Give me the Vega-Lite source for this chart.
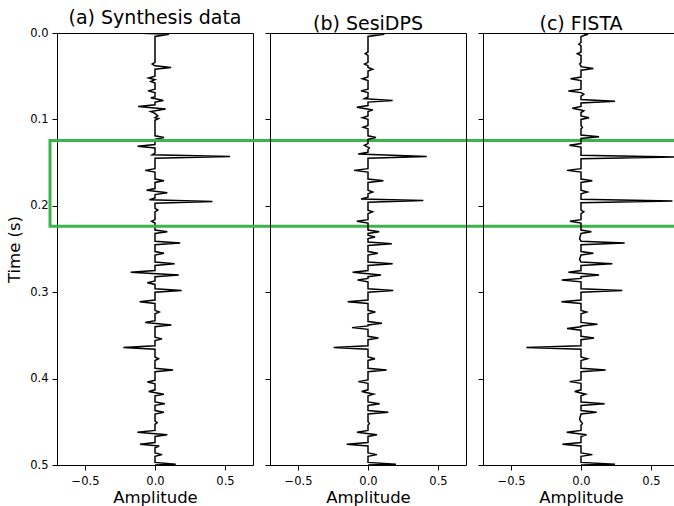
{
"$schema": "https://vega.github.io/schema/vega-lite/v6.json",
"padding": {"left": 6, "top": 8, "right": 0, "bottom": 0},
"datasets": {
"a": [{"t":0,"v":-0.14},{"t":0.0015,"v":0.1},{"t":0.004,"v":0},{"t":0.034,"v":0},{"t":0.036,"v":-0.02},{"t":0.038,"v":0},{"t":0.040,"v":0.115},{"t":0.042,"v":0},{"t":0.050,"v":0},{"t":0.052,"v":-0.045},{"t":0.054,"v":0},{"t":0.056,"v":-0.03},{"t":0.058,"v":0},{"t":0.065,"v":0},{"t":0.067,"v":-0.05},{"t":0.069,"v":0},{"t":0.074,"v":0},{"t":0.075,"v":-0.03},{"t":0.078,"v":0.06},{"t":0.080,"v":0},{"t":0.083,"v":0},{"t":0.085,"v":-0.12},{"t":0.088,"v":0.076},{"t":0.091,"v":-0.03},{"t":0.093,"v":0},{"t":0.096,"v":0.02},{"t":0.098,"v":0},{"t":0.099,"v":0.025},{"t":0.101,"v":0},{"t":0.119,"v":0},{"t":0.121,"v":0.065},{"t":0.123,"v":0},{"t":0.129,"v":0},{"t":0.131,"v":-0.125},{"t":0.133,"v":0},{"t":0.139,"v":0},{"t":0.141,"v":-0.02},{"t":0.143,"v":0.536},{"t":0.145,"v":0},{"t":0.157,"v":0},{"t":0.159,"v":-0.07},{"t":0.161,"v":0},{"t":0.169,"v":0},{"t":0.171,"v":0.064},{"t":0.173,"v":0},{"t":0.180,"v":0},{"t":0.182,"v":-0.06},{"t":0.185,"v":0.088},{"t":0.187,"v":0},{"t":0.191,"v":0},{"t":0.193,"v":-0.04},{"t":0.195,"v":0.41},{"t":0.197,"v":0},{"t":0.203,"v":0},{"t":0.205,"v":0.02},{"t":0.207,"v":0},{"t":0.216,"v":0},{"t":0.218,"v":-0.024},{"t":0.220,"v":0},{"t":0.228,"v":0},{"t":0.230,"v":0.088},{"t":0.232,"v":0},{"t":0.241,"v":0},{"t":0.243,"v":0.18},{"t":0.245,"v":0},{"t":0.253,"v":0},{"t":0.255,"v":0.064},{"t":0.257,"v":0},{"t":0.265,"v":0},{"t":0.267,"v":0.14},{"t":0.269,"v":0},{"t":0.275,"v":0},{"t":0.277,"v":-0.174},{"t":0.280,"v":0.17},{"t":0.282,"v":0},{"t":0.287,"v":0},{"t":0.289,"v":-0.055},{"t":0.291,"v":0},{"t":0.296,"v":0},{"t":0.298,"v":0.19},{"t":0.300,"v":0},{"t":0.309,"v":0},{"t":0.311,"v":-0.11},{"t":0.313,"v":0},{"t":0.321,"v":0},{"t":0.323,"v":0.03},{"t":0.325,"v":0},{"t":0.333,"v":0},{"t":0.335,"v":-0.07},{"t":0.338,"v":0.117},{"t":0.340,"v":0},{"t":0.352,"v":0},{"t":0.354,"v":0.05},{"t":0.356,"v":0},{"t":0.362,"v":0},{"t":0.364,"v":-0.226},{"t":0.366,"v":0},{"t":0.375,"v":0},{"t":0.377,"v":0.025},{"t":0.379,"v":0},{"t":0.388,"v":0},{"t":0.390,"v":0.129},{"t":0.392,"v":0},{"t":0.402,"v":0},{"t":0.404,"v":-0.054},{"t":0.406,"v":0},{"t":0.413,"v":0},{"t":0.415,"v":-0.045},{"t":0.418,"v":0.063},{"t":0.420,"v":0},{"t":0.427,"v":0},{"t":0.429,"v":0.07},{"t":0.431,"v":0},{"t":0.437,"v":0},{"t":0.439,"v":0.063},{"t":0.441,"v":0},{"t":0.449,"v":0},{"t":0.451,"v":0.015},{"t":0.453,"v":0},{"t":0.460,"v":0},{"t":0.462,"v":-0.126},{"t":0.465,"v":0.088},{"t":0.467,"v":0},{"t":0.474,"v":0},{"t":0.476,"v":-0.107},{"t":0.478,"v":0.03},{"t":0.480,"v":0},{"t":0.486,"v":0},{"t":0.488,"v":0.05},{"t":0.490,"v":0},{"t":0.497,"v":0},{"t":0.499,"v":0.148},{"t":0.5,"v":0}],
"b": [{"t":0,"v":-0.06},{"t":0.0015,"v":0.117},{"t":0.004,"v":0},{"t":0.022,"v":0},{"t":0.024,"v":-0.02},{"t":0.026,"v":0},{"t":0.034,"v":0},{"t":0.036,"v":-0.025},{"t":0.038,"v":0},{"t":0.040,"v":0},{"t":0.042,"v":0.033},{"t":0.044,"v":0},{"t":0.051,"v":0},{"t":0.053,"v":-0.04},{"t":0.055,"v":0},{"t":0.065,"v":0},{"t":0.067,"v":-0.05},{"t":0.069,"v":0},{"t":0.074,"v":0},{"t":0.076,"v":-0.025},{"t":0.078,"v":0.176},{"t":0.080,"v":0},{"t":0.084,"v":0},{"t":0.086,"v":-0.08},{"t":0.089,"v":0.035},{"t":0.091,"v":0},{"t":0.096,"v":0},{"t":0.098,"v":-0.04},{"t":0.100,"v":0},{"t":0.107,"v":0},{"t":0.109,"v":-0.035},{"t":0.111,"v":0},{"t":0.119,"v":0},{"t":0.121,"v":0.057},{"t":0.123,"v":0},{"t":0.128,"v":0},{"t":0.130,"v":-0.026},{"t":0.133,"v":0.01},{"t":0.135,"v":0},{"t":0.138,"v":0},{"t":0.140,"v":-0.07},{"t":0.143,"v":0.42},{"t":0.145,"v":0},{"t":0.157,"v":0},{"t":0.159,"v":-0.1},{"t":0.161,"v":0},{"t":0.169,"v":0},{"t":0.171,"v":0.11},{"t":0.173,"v":0},{"t":0.182,"v":0},{"t":0.184,"v":0.033},{"t":0.186,"v":0},{"t":0.190,"v":0},{"t":0.192,"v":-0.05},{"t":0.194,"v":0.395},{"t":0.196,"v":0},{"t":0.205,"v":0},{"t":0.207,"v":0.033},{"t":0.209,"v":0},{"t":0.216,"v":0},{"t":0.218,"v":-0.08},{"t":0.220,"v":0},{"t":0.228,"v":0},{"t":0.230,"v":0.08},{"t":0.232,"v":0},{"t":0.234,"v":0},{"t":0.236,"v":0.05},{"t":0.238,"v":0},{"t":0.242,"v":0},{"t":0.244,"v":0.17},{"t":0.246,"v":0},{"t":0.253,"v":0},{"t":0.255,"v":0.07},{"t":0.257,"v":0},{"t":0.265,"v":0},{"t":0.267,"v":0.176},{"t":0.269,"v":0},{"t":0.275,"v":0},{"t":0.277,"v":-0.11},{"t":0.280,"v":0.093},{"t":0.282,"v":0},{"t":0.284,"v":0},{"t":0.286,"v":-0.074},{"t":0.288,"v":0},{"t":0.296,"v":0},{"t":0.298,"v":0.18},{"t":0.300,"v":0},{"t":0.309,"v":0},{"t":0.311,"v":-0.145},{"t":0.313,"v":0},{"t":0.321,"v":0},{"t":0.323,"v":0.052},{"t":0.325,"v":0},{"t":0.334,"v":0},{"t":0.336,"v":0.1},{"t":0.338,"v":0},{"t":0.339,"v":0},{"t":0.341,"v":-0.114},{"t":0.343,"v":0},{"t":0.351,"v":0},{"t":0.353,"v":0.074},{"t":0.355,"v":0},{"t":0.362,"v":0},{"t":0.364,"v":-0.245},{"t":0.366,"v":0},{"t":0.375,"v":0},{"t":0.377,"v":0.05},{"t":0.379,"v":0},{"t":0.388,"v":0},{"t":0.390,"v":0.133},{"t":0.392,"v":0},{"t":0.4015,"v":0},{"t":0.4035,"v":-0.069},{"t":0.4055,"v":0},{"t":0.413,"v":0},{"t":0.415,"v":-0.045},{"t":0.418,"v":0.04},{"t":0.420,"v":0},{"t":0.427,"v":0},{"t":0.429,"v":0.083},{"t":0.431,"v":0},{"t":0.437,"v":0},{"t":0.439,"v":0.145},{"t":0.441,"v":0},{"t":0.450,"v":0},{"t":0.452,"v":0.01},{"t":0.454,"v":0},{"t":0.460,"v":0},{"t":0.462,"v":-0.079},{"t":0.465,"v":0.064},{"t":0.467,"v":0},{"t":0.474,"v":0},{"t":0.476,"v":-0.152},{"t":0.478,"v":0},{"t":0.486,"v":0},{"t":0.488,"v":0.064},{"t":0.490,"v":0},{"t":0.497,"v":0},{"t":0.499,"v":0.2},{"t":0.5,"v":0}],
"c": [{"t":0,"v":0},{"t":0.0015,"v":0.05},{"t":0.004,"v":0},{"t":0.011,"v":0},{"t":0.013,"v":-0.015},{"t":0.015,"v":0},{"t":0.022,"v":0},{"t":0.024,"v":-0.026},{"t":0.026,"v":0},{"t":0.034,"v":0},{"t":0.036,"v":-0.01},{"t":0.038,"v":0},{"t":0.039,"v":0},{"t":0.041,"v":0.088},{"t":0.043,"v":0},{"t":0.051,"v":0},{"t":0.053,"v":-0.074},{"t":0.055,"v":0},{"t":0.065,"v":0},{"t":0.067,"v":-0.09},{"t":0.069,"v":0},{"t":0.071,"v":0.02},{"t":0.073,"v":0},{"t":0.077,"v":0},{"t":0.079,"v":0.243},{"t":0.081,"v":0},{"t":0.085,"v":0},{"t":0.087,"v":-0.062},{"t":0.089,"v":0},{"t":0.090,"v":0.02},{"t":0.092,"v":0},{"t":0.096,"v":0},{"t":0.098,"v":0.057},{"t":0.100,"v":0},{"t":0.107,"v":0},{"t":0.109,"v":0.01},{"t":0.111,"v":0},{"t":0.118,"v":0},{"t":0.120,"v":0.129},{"t":0.122,"v":0},{"t":0.128,"v":0},{"t":0.130,"v":-0.083},{"t":0.132,"v":0},{"t":0.1415,"v":0},{"t":0.1435,"v":0.68},{"t":0.1455,"v":0},{"t":0.157,"v":0},{"t":0.159,"v":-0.1},{"t":0.161,"v":0},{"t":0.169,"v":0},{"t":0.171,"v":0.081},{"t":0.173,"v":0},{"t":0.182,"v":0},{"t":0.184,"v":0.045},{"t":0.186,"v":0},{"t":0.1925,"v":0},{"t":0.1945,"v":0.653},{"t":0.1965,"v":0},{"t":0.205,"v":0},{"t":0.207,"v":0.02},{"t":0.209,"v":0},{"t":0.216,"v":0},{"t":0.218,"v":-0.079},{"t":0.220,"v":0},{"t":0.228,"v":0},{"t":0.230,"v":0.074},{"t":0.232,"v":0},{"t":0.238,"v":-0.01},{"t":0.241,"v":0},{"t":0.243,"v":0.312},{"t":0.245,"v":0},{"t":0.253,"v":0},{"t":0.255,"v":0.088},{"t":0.257,"v":0},{"t":0.262,"v":-0.01},{"t":0.265,"v":0},{"t":0.267,"v":0.224},{"t":0.269,"v":0},{"t":0.275,"v":0},{"t":0.277,"v":-0.09},{"t":0.280,"v":0.129},{"t":0.282,"v":0},{"t":0.284,"v":0},{"t":0.286,"v":-0.138},{"t":0.288,"v":0},{"t":0.296,"v":0},{"t":0.298,"v":0.295},{"t":0.300,"v":0},{"t":0.309,"v":0},{"t":0.311,"v":-0.14},{"t":0.313,"v":0},{"t":0.321,"v":0},{"t":0.323,"v":0.04},{"t":0.325,"v":0},{"t":0.335,"v":0},{"t":0.337,"v":0.117},{"t":0.339,"v":0},{"t":0.340,"v":0},{"t":0.342,"v":-0.1},{"t":0.344,"v":0},{"t":0.351,"v":0},{"t":0.353,"v":0.093},{"t":0.355,"v":0},{"t":0.362,"v":0},{"t":0.364,"v":-0.39},{"t":0.366,"v":0},{"t":0.375,"v":0},{"t":0.377,"v":0.045},{"t":0.379,"v":0},{"t":0.388,"v":0},{"t":0.390,"v":0.176},{"t":0.392,"v":0},{"t":0.4015,"v":0},{"t":0.4035,"v":-0.081},{"t":0.4055,"v":0},{"t":0.413,"v":0},{"t":0.415,"v":-0.045},{"t":0.418,"v":0.033},{"t":0.420,"v":0},{"t":0.427,"v":0},{"t":0.429,"v":0.169},{"t":0.431,"v":0},{"t":0.437,"v":0},{"t":0.439,"v":0.112},{"t":0.441,"v":0},{"t":0.447,"v":-0.01},{"t":0.450,"v":0},{"t":0.452,"v":0.01},{"t":0.454,"v":0},{"t":0.460,"v":0},{"t":0.462,"v":-0.102},{"t":0.465,"v":0.04},{"t":0.467,"v":0},{"t":0.474,"v":0},{"t":0.476,"v":-0.133},{"t":0.478,"v":0},{"t":0.486,"v":0},{"t":0.488,"v":0.081},{"t":0.490,"v":0},{"t":0.497,"v":0},{"t":0.499,"v":0.243},{"t":0.5,"v":0}]
},
"spacing": 17,
"bounds": "flush",
"hconcat": [
{
"title": "(a) Synthesis data",
"width": 196, "height": 432,
"layer": [
{"data": {"name": "a"},
 "mark": {"type": "line", "color": "black", "strokeWidth": 1.5, "clip": true},
 "encoding": {
  "x": {"field": "v", "type": "quantitative", "scale": {"domain": [-0.7, 0.7], "nice": false, "zero": false}, "axis": {"values": [-0.5, 0, 0.5], "format": ".1f", "title": "Amplitude"}},
  "y": {"field": "t", "type": "quantitative", "scale": {"domain": [0, 0.5], "reverse": true, "nice": false, "zero": false}, "axis": {"values": [0, 0.1, 0.2, 0.3, 0.4, 0.5], "format": ".1f", "title": "Time (s)"}},
  "order": {"field": "t", "type": "quantitative"}
 }},
{"data": {"values": [{"x1": -0.75, "x2": 3.8, "y1": 0.1245, "y2": 0.2237}]},
 "mark": {"type": "rect", "filled": false, "color": "#3cb44b", "strokeWidth": 3, "clip": false},
 "encoding": {
  "x": {"field": "x1", "type": "quantitative"},
  "x2": {"field": "x2"},
  "y": {"field": "y1", "type": "quantitative"},
  "y2": {"field": "y2"}
 }}
]
},
{
"title": "(b) SesiDPS",
"width": 196, "height": 432,
"data": {"name": "b"},
"mark": {"type": "line", "color": "black", "strokeWidth": 1.5, "clip": true},
"encoding": {
  "x": {"field": "v", "type": "quantitative", "scale": {"domain": [-0.7, 0.7], "nice": false, "zero": false}, "axis": {"values": [-0.5, 0, 0.5], "format": ".1f", "title": "Amplitude"}},
  "y": {"field": "t", "type": "quantitative", "scale": {"domain": [0, 0.5], "reverse": true, "nice": false, "zero": false}, "axis": {"values": [0, 0.1, 0.2, 0.3, 0.4, 0.5], "labels": false, "title": null}},
  "order": {"field": "t", "type": "quantitative"}
}
},
{
"title": "(c) FISTA",
"width": 196, "height": 432,
"data": {"name": "c"},
"mark": {"type": "line", "color": "black", "strokeWidth": 1.5, "clip": true},
"encoding": {
  "x": {"field": "v", "type": "quantitative", "scale": {"domain": [-0.7, 0.7], "nice": false, "zero": false}, "axis": {"values": [-0.5, 0, 0.5], "format": ".1f", "title": "Amplitude"}},
  "y": {"field": "t", "type": "quantitative", "scale": {"domain": [0, 0.5], "reverse": true, "nice": false, "zero": false}, "axis": {"values": [0, 0.1, 0.2, 0.3, 0.4, 0.5], "labels": false, "title": null}},
  "order": {"field": "t", "type": "quantitative"}
}
}
],
"config": {
 "font": "DejaVu Sans",
 "view": {"stroke": "black", "strokeWidth": 1},
 "axis": {"grid": false, "domain": false, "tickColor": "black", "tickSize": 5, "tickWidth": 1, "labelColor": "black", "labelFontSize": 11.5, "titleFontSize": 16.5, "titleFontWeight": "normal", "titleColor": "black", "labelPadding": 3, "titlePadding": 2},
 "axisX": {"labelPadding": 5, "titlePadding": 3},
 "axisY": {"labelPadding": 4, "titlePadding": 7},
 "title": {"fontSize": 19, "fontWeight": "normal", "color": "black", "offset": -1}
}
}
